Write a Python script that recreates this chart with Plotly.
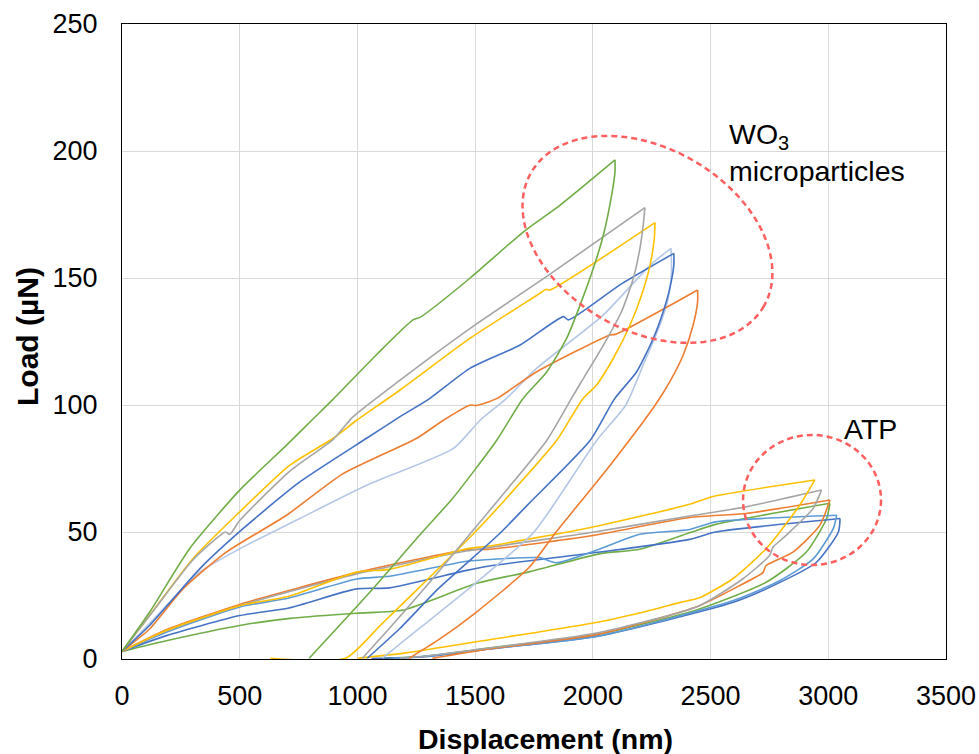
import numpy as np
import plotly.graph_objects as go

# ---------------- data ----------------
# WO3 microparticles: loading + unloading branches
wo3_green_x = [0, 117, 287, 500, 699, 806, 894, 1083, 1236, 1266, 1479, 1703, 1861, 2094,
               2094, 2080, 2045, 2002, 1946, 1889, 1804, 1702, 1591, 1404, 1276, 1040, 795]
wo3_green_y = [3, 18.4, 43.4, 66.5, 84.2, 94, 102, 120, 133.5, 134.5, 150, 168, 178.7, 196.5,
               191.9, 182.7, 167, 153.8, 139.4, 126.3, 113, 102.4, 86, 63.2, 50, 25, 0.3]

wo3_gray_x = [0, 117, 301, 440, 457, 500, 713, 897, 982, 1181, 1479, 1818, 2221,
              2214, 2200, 2172, 2122, 2045, 1960, 1908, 1804, 1602, 1485, 1305, 1135, 1021]
wo3_gray_y = [3, 17, 39, 50, 49, 54.5, 74, 86.5, 95.4, 109.8, 130.2, 151.5, 177.7,
              170.9, 161.7, 149.9, 136.8, 123.6, 110.5, 102.4, 86, 63, 50, 30, 12, 0.3]

wo3_yellow_x = [0, 117, 301, 500, 713, 897, 997, 1181, 1479, 1776, 1800, 1818, 2264,
                2261, 2243, 2207, 2158, 2087, 2016, 1957, 1846, 1630, 1500, 1250, 1100, 950, 630]
wo3_yellow_y = [3, 17.1, 39.5, 57.9, 76.3, 86.9, 94, 105.9, 126.3, 144, 145.5, 145.3, 171.8,
                165.6, 155.1, 143.3, 131.5, 118.4, 107.9, 102.4, 86, 63, 50, 27, 13.5, 0.3, 0.3]

wo3_lavender_x = [0, 117, 330, 500, 755, 1039, 1408, 1521, 1631, 1762, 2045, 2243, 2332,
                  2334, 2320, 2285, 2214, 2140, 2016, 1750, 1503, 1276, 1106]
wo3_lavender_y = [3, 14, 34.2, 43.4, 55.3, 68.4, 82.9, 94, 102.4, 114.5, 135.5, 155, 161.7,
                  152.5, 142, 131.5, 115.8, 100, 86, 50, 30, 13, 0.3]

wo3_blue_x = [0, 117, 330, 514, 755, 1039, 1181, 1305, 1479, 1691, 1875, 1896, 2115, 2344,
              2344, 2327, 2299, 2257, 2186, 2092, 1988, 1722, 1600, 1347, 1180, 1042]
wo3_blue_y = [3, 13.2, 35.5, 51.3, 69.7, 86.9, 95.4, 102.4, 114.5, 123.6, 134.8, 133.5, 147.3, 159.7,
              155.1, 146, 136.8, 126.3, 113.1, 102.4, 86, 60.6, 49, 28, 12, 0.3]

wo3_orange_x = [0, 117, 259, 443, 699, 936, 1252, 1365, 1479, 1504, 1589, 1762, 2073, 2095, 2445,
                2445, 2426, 2384, 2327, 2265, 2071, 1844, 1729, 1503, 1347, 1220]
wo3_orange_y = [3, 11.8, 27.6, 42.1, 56.6, 72.8, 86.9, 94, 100, 99.8, 102.4, 113.1, 127.6, 127.8, 145.3,
                140.7, 131.5, 119.7, 109.2, 100, 76, 50, 36, 18.3, 7.7, 0.3]

# ATP: loading + unloading branches
atp_yellow_x = [0, 188, 500, 709, 996, 1135, 1464, 1560, 1986, 2411, 2507, 2943,
                2879, 2736, 2593, 2450, 2380, 2236, 2021, 1560, 1206, 1000]
atp_yellow_y = [3, 11.2, 21, 24.7, 34.2, 35.3, 43.4, 44.5, 51.7, 60.9, 63.9, 70.5,
                60.6, 43.4, 31.5, 24, 22.5, 19, 14.5, 7.6, 2.4, 0.3]

atp_gray_x = [0, 188, 500, 996, 1464, 1986, 2411, 2650, 2971,
              2936, 2821, 2765, 2750, 2636, 2450, 2021, 1560, 1277, 1180]
atp_gray_y = [3, 11, 21, 33.5, 42.5, 49.7, 56.3, 59.9, 66.5,
              59.3, 48.7, 44, 40.7, 31.5, 20.9, 10.3, 4.3, 1, 0.3]

atp_orange_x = [0, 188, 500, 996, 1464, 1560, 1986, 2411, 2650, 3007,
                2964, 2850, 2736, 2722, 2621, 2450, 2021, 1560, 1319]
atp_orange_y = [3, 11.5, 21.5, 34, 43, 43.2, 48.4, 55.7, 57.3, 62.6,
                52.6, 42.1, 36.8, 34, 28.8, 20.9, 9.7, 4, 0.3]

atp_green_x = [0, 188, 500, 714, 997, 1195, 1507, 1733, 2032, 2199, 2411, 2521, 3007,
               2993, 2907, 2736, 2450, 2021, 1560, 1277, 1100]
atp_green_y = [3, 7.2, 13.2, 16, 18, 19.3, 29.8, 34.4, 41.5, 43.2, 49.7, 53, 61.3,
               55.3, 42.1, 30.2, 19.6, 9.7, 4.3, 1, 0.3]

atp_lightblue_x = [0, 188, 500, 709, 996, 1135, 1464, 1560, 1773, 1844, 2032, 2199, 2411, 2521, 3036,
                   3021, 2936, 2793, 2593, 2021, 1560, 1277, 1150]
atp_lightblue_y = [3, 10.5, 20.5, 24, 31.5, 32.6, 38.5, 39.2, 39.9, 37.9, 43.4, 49.1, 51, 54, 56.6,
                   51.3, 39.4, 30.8, 22.9, 9, 4, 1, 0.3]

atp_blue_x = [0, 188, 500, 709, 996, 1135, 1464, 1560, 2021, 2411, 2521, 3050,
              3043, 2950, 2764, 2593, 2021, 1560, 1277, 1060]
atp_blue_y = [3, 9.2, 17.1, 20.1, 27.6, 28, 34.9, 36.6, 42, 47.1, 50, 55.3,
              50, 38.1, 28.8, 22.2, 9, 4, 0.8, 0.3]

x_ticks = [0, 500, 1000, 1500, 2000, 2500, 3000, 3500]
y_ticks = [0, 50, 100, 150, 200, 250]

# ---------------- styling ----------------
C_GREEN = "#70AD47"
C_GRAY = "#A5A5A5"
C_YELLOW = "#FFC000"
C_LAV = "#B4C7E7"
C_BLUE = "#4472C4"
C_ORANGE = "#ED7D31"
C_LBLUE = "#5B9BD5"
C_RED = "#FF5F5F"
FONT = "Liberation Sans, Arial, sans-serif"

W, H = 979, 754
ML, MT = 122, 24
PW, PH = 824, 635
MR, MB = W - ML - PW, H - MT - PH
XMAX, YMAX = 3500, 250

series = [
    (atp_green_x, atp_green_y, C_GREEN),
    (atp_blue_x, atp_blue_y, C_BLUE),
    (atp_lightblue_x, atp_lightblue_y, C_LBLUE),
    (atp_orange_x, atp_orange_y, C_ORANGE),
    (atp_gray_x, atp_gray_y, C_GRAY),
    (atp_yellow_x, atp_yellow_y, C_YELLOW),
    (wo3_lavender_x, wo3_lavender_y, C_LAV),
    (wo3_orange_x, wo3_orange_y, C_ORANGE),
    (wo3_blue_x, wo3_blue_y, C_BLUE),
    (wo3_yellow_x, wo3_yellow_y, C_YELLOW),
    (wo3_gray_x, wo3_gray_y, C_GRAY),
    (wo3_green_x, wo3_green_y, C_GREEN),
]

fig = go.Figure()
for xs, ys, col in series:
    k = int(np.argmax(ys))
    for sx_, sy_ in ((xs[:k + 1], ys[:k + 1]), (xs[k:], ys[k:])):
        fig.add_trace(go.Scatter(x=sx_, y=sy_, mode="lines",
                                 line=dict(color=col, width=1.6, shape="spline", smoothing=0.6),
                                 showlegend=False, hoverinfo="skip"))

# ---------------- highlight ellipses ----------------
# WO3 tilted ellipse: centre in data units, semi-axes in screen pixels
wo3_cx, wo3_cy, wo3_a, wo3_b, wo3_ang = 2232, 165.2, 134.2, 91.2, 29.8
sx, sy = PW / XMAX, PH / YMAX
t = np.linspace(0, 2 * np.pi, 121)
th = np.deg2rad(wo3_ang)
dx = wo3_a * np.cos(t) * np.cos(th) - wo3_b * np.sin(t) * np.sin(th)
dy = wo3_a * np.cos(t) * np.sin(th) + wo3_b * np.sin(t) * np.cos(th)
ex = wo3_cx + dx / sx
ey = wo3_cy - dy / sy
path = "M " + " L ".join(f"{a:.2f},{b:.3f}" for a, b in zip(ex, ey)) + " Z"
fig.add_shape(type="path", path=path, xref="x", yref="y",
              line=dict(color=C_RED, width=2.5, dash="6px,4px"))

atp_x0, atp_x1, atp_y0, atp_y1 = 2638, 3224, 37, 88.2
fig.add_shape(type="circle", xref="x", yref="y",
              x0=atp_x0, x1=atp_x1, y0=atp_y0, y1=atp_y1,
              line=dict(color=C_RED, width=2.5, dash="6px,4px"))

# ---------------- labels ----------------
def px_to_paper(px, py):
    return (px - ML) / PW, (MT + PH - py) / PH

ax_, ay_ = px_to_paper(727, 116)
fig.add_annotation(x=ax_, y=ay_, xref="paper", yref="paper", xanchor="left", yanchor="top",
                   text="WO<sub>3</sub><br>microparticles", showarrow=False, align="left",
                   font=dict(family=FONT, size=28.5, color="black"))
bx_, by_ = px_to_paper(842, 411)
fig.add_annotation(x=bx_, y=by_, xref="paper", yref="paper", xanchor="left", yanchor="top",
                   text="ATP", showarrow=False, align="left",
                   font=dict(family=FONT, size=28.5, color="black"))

# axis titles
tx_, ty_ = px_to_paper(545, 739)
fig.add_annotation(x=tx_, y=ty_, xref="paper", yref="paper", xanchor="center", yanchor="middle",
                   text="<b>Displacement (nm)</b>", showarrow=False,
                   font=dict(family=FONT, size=28.5, color="black"))
lx_, ly_ = px_to_paper(27, 337)
fig.add_annotation(x=lx_, y=ly_, xref="paper", yref="paper", xanchor="center", yanchor="middle",
                   text="<b>Load (µN)</b>", showarrow=False, textangle=-90,
                   font=dict(family=FONT, size=30, color="black"))

fig.update_layout(
    width=W, height=H,
    margin=dict(l=ML, r=MR, t=MT, b=MB, autoexpand=False),
    paper_bgcolor="white", plot_bgcolor="white",
    font=dict(family=FONT, size=27, color="black"),
    showlegend=False,
)
fig.update_xaxes(range=[0, XMAX], tickvals=x_ticks, ticktext=[str(v) for v in x_ticks],
                 showgrid=True, gridcolor="#D9D9D9", gridwidth=1.3,
                 zeroline=False, showline=True, mirror=True, linecolor="black", linewidth=1.3,
                 ticks="", ticklabelstandoff=12,
                 tickfont=dict(family=FONT, size=27, color="black"))
fig.update_yaxes(range=[0, YMAX], tickvals=y_ticks, ticktext=[str(v) for v in y_ticks],
                 showgrid=True, gridcolor="#D9D9D9", gridwidth=1.3,
                 zeroline=False, showline=True, mirror=True, linecolor="black", linewidth=1.3,
                 ticks="", ticklabelstandoff=18,
                 tickfont=dict(family=FONT, size=27, color="black"))

# remove the default page margin so the 979x754 figure fills the window exactly
fig.write_html("out.html", config={"displayModeBar": False},
               post_script="document.body.style.margin='0';document.body.style.overflow='hidden';")
